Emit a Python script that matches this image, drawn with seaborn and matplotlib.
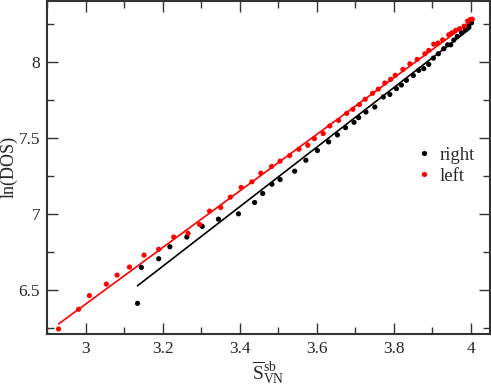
import numpy as np
import pandas as pd
import matplotlib
matplotlib.use("Agg")
import matplotlib.pyplot as plt
import seaborn as sns
from matplotlib.ticker import MultipleLocator

# ---- data ----
left_x = [2.930, 2.982, 3.010, 3.054, 3.082, 3.114, 3.152, 3.190, 3.229, 3.266,
          3.296, 3.322, 3.351, 3.376, 3.404, 3.432, 3.455, 3.483, 3.505, 3.530,
          3.554, 3.577, 3.594, 3.617, 3.634, 3.657, 3.678, 3.694, 3.711, 3.726,
          3.745, 3.760, 3.777, 3.792, 3.804, 3.824, 3.842, 3.861, 3.881, 3.891,
          3.904, 3.915, 3.927, 3.943, 3.951, 3.961, 3.971, 3.983, 3.992, 3.999, 4.004]
left_y = [6.241, 6.371, 6.461, 6.537, 6.596, 6.649, 6.728, 6.766, 6.847, 6.871,
          6.930, 7.018, 7.042, 7.110, 7.174, 7.211, 7.268, 7.312, 7.347, 7.384,
          7.426, 7.452, 7.496, 7.529, 7.579, 7.616, 7.662, 7.689, 7.720, 7.755,
          7.794, 7.822, 7.862, 7.886, 7.913, 7.952, 7.989, 8.018, 8.055, 8.077,
          8.118, 8.125, 8.147, 8.180, 8.193, 8.209, 8.220, 8.237, 8.270, 8.281, 8.283]

right_x = [3.135, 3.145, 3.190, 3.219, 3.263, 3.303, 3.345, 3.397, 3.439, 3.460,
           3.484, 3.505, 3.543, 3.572, 3.602, 3.631, 3.654, 3.675, 3.697, 3.709,
           3.728, 3.751, 3.773, 3.790, 3.807, 3.820, 3.833, 3.851, 3.865, 3.878,
           3.891, 3.903, 3.916, 3.930, 3.940, 3.948, 3.956, 3.965, 3.976, 3.986,
           3.995, 4.002]
right_y = [6.410, 6.647, 6.704, 6.783, 6.847, 6.917, 6.965, 7.000, 7.075, 7.134,
           7.195, 7.226, 7.281, 7.353, 7.417, 7.474, 7.520, 7.568, 7.603, 7.634,
           7.671, 7.704, 7.770, 7.787, 7.825, 7.849, 7.880, 7.912, 7.945, 7.957,
           7.985, 8.026, 8.055, 8.088, 8.114, 8.114, 8.145, 8.169, 8.193, 8.213,
           8.235, 8.259]

# linear fits (slope, intercept, x-range) as drawn in the reference
fit_series = ["right", "left"]
fit_slope = [1.963, 1.864]
fit_intercept = [0.372, 0.8125]
fit_xmin = [3.135, 2.930]
fit_xmax = [4.000, 4.003]

series_names = ["right", "left"]
series_colors = ["black", "red"]

# ---- build tables ----
pts = pd.concat([
    pd.DataFrame({"x": right_x, "y": right_y, "series": "right"}),
    pd.DataFrame({"x": left_x, "y": left_y, "series": "left"}),
], ignore_index=True)

fit_rows = []
for name, m, b, x0, x1 in zip(fit_series, fit_slope, fit_intercept, fit_xmin, fit_xmax):
    xs = np.array([x0, x1])
    fit_rows.append(pd.DataFrame({"x": xs, "y": m * xs + b, "series": name}))
fits = pd.concat(fit_rows, ignore_index=True)

# ---- plot ----
sns.set_style("ticks")
plt.rcParams["font.family"] = ["Liberation Serif", "DejaVu Serif"]
plt.rcParams["mathtext.fontset"] = "custom"
plt.rcParams["mathtext.rm"] = "Liberation Serif"
plt.rcParams["mathtext.it"] = "Liberation Serif:italic"

fig = plt.figure(figsize=(4.91, 3.92), dpi=100)
ax = fig.add_axes([47 / 491, 58 / 392, 443 / 491, 333.5 / 392])

palette = dict(zip(series_names, series_colors))
sns.lineplot(data=fits, x="x", y="y", hue="series", hue_order=series_names,
             palette=palette, linewidth=1.2, legend=False, ax=ax)
sns.scatterplot(data=pts, x="x", y="y", hue="series", hue_order=series_names,
                palette=palette, s=14, linewidth=0, ax=ax, zorder=3)

ax.set_xlim(2.9, 4.05)
ax.set_ylim(6.208, 8.406)
ax.xaxis.set_major_locator(MultipleLocator(0.2))
ax.xaxis.set_minor_locator(MultipleLocator(0.1))
ax.yaxis.set_major_locator(MultipleLocator(0.5))
ax.yaxis.set_minor_locator(MultipleLocator(0.25))
ax.set_xticks([3, 3.2, 3.4, 3.6, 3.8, 4])
ax.set_xticklabels(["3", "3.2", "3.4", "3.6", "3.8", "4"])
ax.set_yticks([6.5, 7, 7.5, 8])
ax.set_yticklabels(["6.5", "7", "7.5", "8"])

ax.tick_params(which="both", direction="in", top=True, right=True,
               labelsize=12.5, color="#333333", width=1.0, pad=5)
ax.tick_params(which="major", length=8)
ax.tick_params(which="minor", length=5)
for sp in ax.spines.values():
    sp.set_linewidth(1.5)
    sp.set_color("#333333")

ax.set_xlabel(r"$\overline{\mathrm{S}}_{\mathrm{VN}}^{\mathrm{sb}}$", fontsize=14, labelpad=2)
ax.set_ylabel("ln(DOS)", fontsize=13, labelpad=1)

leg = ax.legend(loc="center left", bbox_to_anchor=(0.805, 0.505), frameon=False,
                fontsize=13.5, handletextpad=0.1, borderaxespad=0, labelspacing=0.2,
                markerscale=1.0, handlelength=1.4)

fig.savefig("out.png", dpi=100)
